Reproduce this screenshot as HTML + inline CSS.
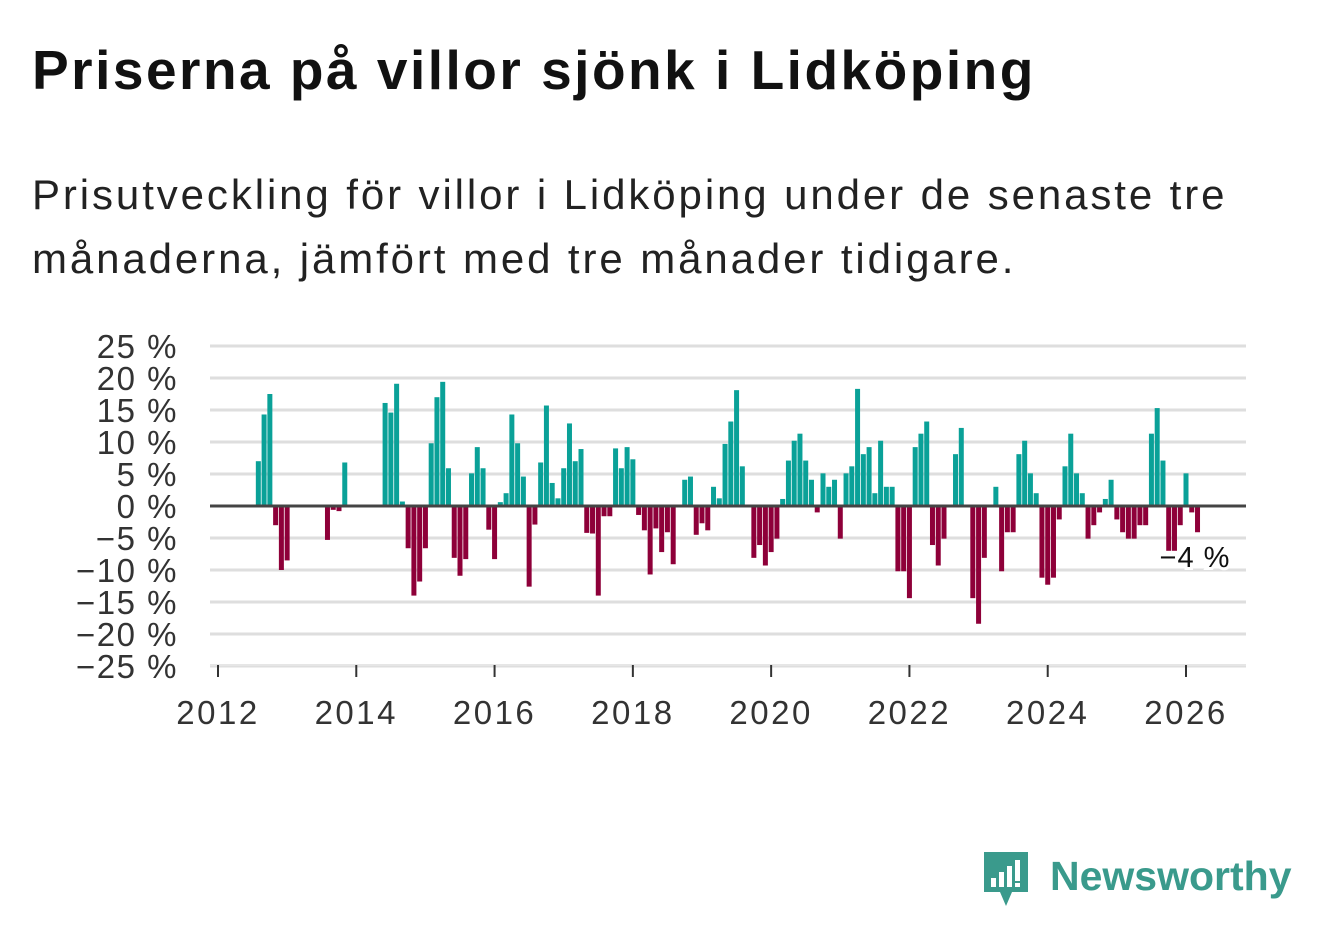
<!DOCTYPE html>
<html><head><meta charset="utf-8">
<style>
body{margin:0;background:#fff;width:1322px;height:939px;overflow:hidden;font-family:"Liberation Sans","DejaVu Sans",sans-serif;}
#title{position:absolute;left:32px;top:38px;font-size:55px;font-weight:bold;color:#111;margin:0;letter-spacing:2.5px;white-space:nowrap}
#sub{position:absolute;left:32px;top:163px;font-size:42px;color:#222;line-height:64px;margin:0;width:1290px;letter-spacing:2.9px;white-space:nowrap}
svg{position:absolute;left:0;top:0}
</style></head><body>
<h1 id="title">Priserna på villor sjönk i Lidköping</h1>
<p id="sub">Prisutveckling för villor i Lidköping under de senaste tre<br>månaderna, jämfört med tre månader tidigare.</p>
<svg id="chart" width="1322" height="939"></svg>
<script>
const startYear = 2012;
const yTicks = [25,20,15,10,5,0,-5,-10,-15,-20,-25];
const xTicks = [2012,2014,2016,2018,2020,2022,2024,2026];
// monthly values, index 0 = Jan 2012
const values = [0,0,0,0,0,0,0,7.0,14.3,17.5,-3.0,-10.0,-8.5,0,0,0,0,0,0,-5.3,-0.6,-0.8,6.8,0,0,0,0,0,0,16.1,14.6,19.1,0.7,-6.6,-14,-11.8,-6.6,9.8,17,19.4,5.9,-8.1,-10.9,-8.3,5.1,9.2,5.9,-3.7,-8.3,0.6,2.0,14.3,9.8,4.6,-12.6,-2.9,6.8,15.7,3.6,1.2,5.9,12.9,7.0,8.9,-4.2,-4.3,-14,-1.6,-1.6,9.0,5.9,9.2,7.3,-1.4,-3.8,-10.7,-3.5,-7.2,-4.1,-9.1,0,4.1,4.6,-4.5,-2.7,-3.8,3.0,1.2,9.7,13.2,18.1,6.2,0,-8.1,-6.1,-9.3,-7.2,-5.1,1.1,7.1,10.2,11.3,7.1,4.1,-1.0,5.1,3.0,4.1,-5.1,5.1,6.2,18.3,8.1,9.2,2.0,10.2,3.0,3.0,-10.2,-10.2,-14.4,9.2,11.3,13.2,-6.1,-9.3,-5.1,0,8.1,12.2,0,-14.4,-18.4,-8.1,0,3.0,-10.2,-4.1,-4.1,8.1,10.2,5.1,2.0,-11.2,-12.3,-11.2,-2.1,6.2,11.3,5.1,2.0,-5.1,-3.0,-1.0,1.1,4.1,-2.1,-4.1,-5.1,-5.1,-3.0,-3.0,11.3,15.3,7.1,-7.0,-7.0,-3.0,5.1,-1.0,-4.1];
const lastLabel = "−4 %";

const svg = document.getElementById('chart');
const NS = 'http://www.w3.org/2000/svg';
const x = m => 218 + m * (968/168);
const y = v => 506 - v * 6.4;
function mk(tag, attrs){const e=document.createElementNS(NS,tag);for(const k in attrs)e.setAttribute(k,attrs[k]);svg.appendChild(e);return e;}

yTicks.forEach(t=>{
  if(t!==0){const g=mk('line',{x1:210,x2:1246,y1:y(t),y2:y(t),stroke:'#dedede','stroke-width':3});
  
  }
  const l=mk('text',{x:178,y:y(t)+12,'text-anchor':'end','font-size':33,fill:'#333','letter-spacing':1.5});
  l.textContent=(t<0?'−'+(-t):t)+' %';
  
  
});
const ax=mk('line',{x1:210,x2:1246,y1:665,y2:665,stroke:'#e6e6e6','stroke-width':2});


xTicks.forEach(yr=>{
  const px=x((yr-startYear)*12);
  const tk=mk('line',{x1:px,x2:px,y1:665,y2:677,stroke:'#333','stroke-width':2});
  
  
  const l=mk('text',{x:px,y:724,'text-anchor':'middle','font-size':33,fill:'#333','letter-spacing':2.5});
  l.textContent=yr;
  
  
});
values.forEach((v,i)=>{
  if(v===0)return;
  const px=x(i);
  const r=mk('rect',{x:px-2.5,width:5,y:Math.min(y(v),y(0)),height:Math.abs(y(v)-y(0)),fill:v>0?'#0aa198':'#8e0039'});
  
  
});
const z=mk('line',{x1:210,x2:1246,y1:y(0),y2:y(0),stroke:'#444','stroke-width':3});


const lastIdx=values.length-1;
const lab=mk('text',{x:x(lastIdx)-38,y:y(values[lastIdx])+35,'font-size':29,fill:'#111',stroke:'#fff','stroke-width':6,'paint-order':'stroke','letter-spacing':1});
lab.textContent=lastLabel;


</script>
<div style="position:absolute;left:982px;top:850px;height:60px;display:flex;align-items:center">
<svg width="48" height="60" viewBox="0 0 48 60" style="position:static">
<path d="M2 2h44v40H30l-6 14-6-14H2z" fill="#3a9a8c"/>
<rect x="9" y="28" width="5" height="9" fill="#fff"/><rect x="17" y="22" width="5" height="15" fill="#fff"/><rect x="25" y="16" width="5" height="21" fill="#fff"/><rect x="33" y="10" width="5" height="21" fill="#fff"/><rect x="33" y="33" width="5" height="4" fill="#fff"/>
</svg>
<span style="font-size:41px;font-weight:bold;color:#3a9a8c;margin-left:20px;margin-top:-8px">Newsworthy</span>
</div>
</body></html>
